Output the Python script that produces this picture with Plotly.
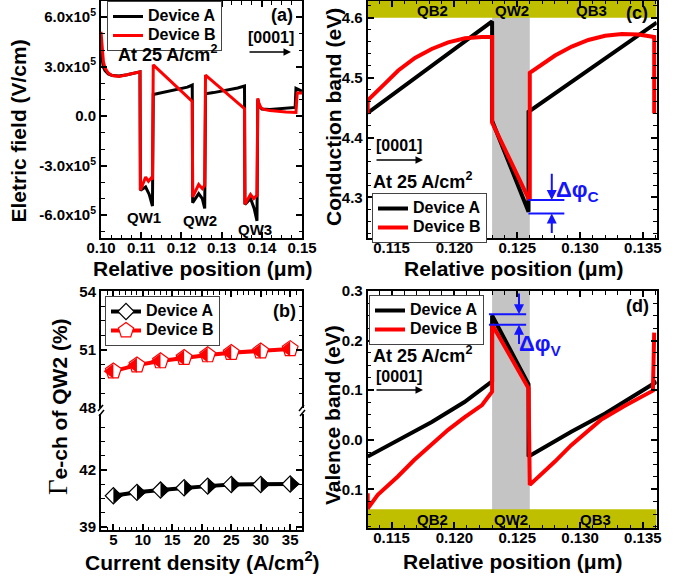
import plotly.graph_objects as go

FONT = "Liberation Sans"
W, H = 690, 577

# ---------------- data ----------------
# (a) electric field vs relative position (um, V/cm)
a_pos_A = [0.1000, 0.1003, 0.1006, 0.1010, 0.1018, 0.1028, 0.1045, 0.1065, 0.1085, 0.1097,
           0.1098, 0.1111, 0.1120, 0.1128,
           0.1130, 0.1140, 0.1160, 0.1180, 0.1200, 0.1215, 0.1227,
           0.1228, 0.1243, 0.1252, 0.1258,
           0.1260, 0.1280, 0.1300, 0.1320, 0.1340, 0.1357,
           0.1358, 0.1372, 0.1381, 0.1388,
           0.1390, 0.1394, 0.1400, 0.1420, 0.1460, 0.1483, 0.1485, 0.1492, 0.1500]
a_field_A = [3.9e5, 3.3e5, 2.95e5, 2.75e5, 2.55e5, 2.45e5, 2.42e5, 2.5e5, 2.6e5, 2.68e5,
             -4.5e5, -4.3e5, -4.75e5, -5.45e5,
             1.3e5, 1.35e5, 1.45e5, 1.55e5, 1.65e5, 1.75e5, 1.88e5,
             -5.25e5, -4.7e5, -5.0e5, -5.6e5,
             1.35e5, 1.42e5, 1.5e5, 1.6e5, 1.7e5, 1.82e5,
             -5.35e5, -5.0e5, -5.6e5, -6.35e5,
             1.0e5, 0.6e5, 0.42e5, 0.4e5, 0.45e5, 0.52e5, 1.68e5, 1.58e5, 1.5e5]
a_pos_B = [0.1000, 0.1003, 0.1006, 0.1010, 0.1018, 0.1028, 0.1045, 0.1065, 0.1085, 0.1097,
           0.1098, 0.1111, 0.1118, 0.1125, 0.1128,
           0.1130, 0.1227,
           0.1228, 0.1243, 0.1252, 0.1258,
           0.1260, 0.1357,
           0.1358, 0.1372, 0.1380, 0.1388,
           0.1390, 0.1393, 0.1398, 0.1405, 0.1420, 0.1460, 0.1485, 0.1488, 0.1500]
a_field_B = [5.1e5, 4.0e5, 3.3e5, 2.9e5, 2.6e5, 2.45e5, 2.4e5, 2.5e5, 2.6e5, 2.68e5,
             -4.5e5, -3.7e5, -3.95e5, -3.75e5, -3.85e5,
             3.1e5, 0.88e5,
             -4.9e5, -4.15e5, -4.4e5, -4.2e5,
             2.48e5, 0.45e5,
             -5.35e5, -4.75e5, -5.0e5, -4.8e5,
             1.07e5, 0.75e5, 0.5e5, 0.4e5, 0.33e5, 0.25e5, 0.22e5, 1.4e5, 1.4e5]
a_ytick_vals = [-6e5, -3e5, 0, 3e5, 6e5]
a_ytick_text = ["-6.0x10<sup>5</sup>", "-3.0x10<sup>5</sup>", "0.0",
                "3.0x10<sup>5</sup>", "6.0x10<sup>5</sup>"]
a_qw_labels = ["QW1", "QW2", "QW3"]

# (b) electron-channel ratio of QW2 vs current density
b_current = [5, 9, 13, 17, 21, 25, 30, 35]
b_gamma_A = [40.64, 40.82, 40.94, 41.06, 41.15, 41.24, 41.24, 41.26]
b_gamma_B = [49.90, 50.21, 50.42, 50.59, 50.73, 50.85, 50.93, 51.05]

# (c) conduction band
c_pos_A = [0.1131, 0.1230, 0.1230, 0.1259, 0.1259, 0.1361]
c_band_A = [4.441, 4.594, 4.428, 4.276, 4.443, 4.592]
c_pos_B = [0.1131, 0.1131, 0.11447, 0.11553, 0.11686, 0.11819, 0.11951, 0.12084, 0.12217, 0.1230,
           0.1230, 0.1259, 0.1260, 0.1260, 0.12801, 0.12934, 0.13066, 0.1320, 0.13333, 0.13465,
           0.1359, 0.1359]
c_band_B = [4.440, 4.462, 4.490, 4.512, 4.533, 4.548, 4.559, 4.566, 4.568, 4.568,
            4.425, 4.298, 4.298, 4.508, 4.537, 4.552, 4.563, 4.570, 4.573, 4.572,
            4.568, 4.440]

# (d) valence band
d_pos_A = [0.1131, 0.1155, 0.1182, 0.1208, 0.1230, 0.1230, 0.1259, 0.1259, 0.1293, 0.1320, 0.1358, 0.1361]
d_band_A = [-0.034, -0.001, 0.036, 0.076, 0.118, 0.2506, 0.112, -0.034, 0.016, 0.053, 0.1126, 0.117]
d_pos_B = [0.1131, 0.1131, 0.1139, 0.1155, 0.1168, 0.1182, 0.1195, 0.1208, 0.1222, 0.1230,
           0.1230, 0.1259, 0.1260, 0.1280, 0.1293, 0.1317, 0.1336, 0.1358, 0.1359]
d_band_B = [-0.108, -0.139, -0.111, -0.074, -0.041, -0.008, 0.020, 0.045, 0.070, 0.097,
            0.2326, 0.104, -0.091, -0.044, -0.011, 0.041, 0.069, 0.099, 0.216]

# layer structure (um)
qw2_bounds = [0.123, 0.126]
layer_labels = ["QB2", "QW2", "QB3"]
# band offset markers
c_dphi_levels = [4.2955, 4.273]
c_dphi_x = [0.12589, 0.12875]
d_dphi_levels = [0.2533, 0.232]
d_dphi_x = [0.12275, 0.12571]

# axis ranges
A_XR = [0.10, 0.15]
A_YR = [-7.39e5, 6.97e5]
B_XR = [2.9, 37.0]
B_YR_LOW = [38.83, 44.99]
B_YR_UP = [47.98, 54.04]
C_XR = [0.1131, 0.1361]
C_YR = [4.232, 4.629]
D_YR = [-0.178, 0.300]

BLACK = "black"
RED = "#ff0000"
BLUE = "#1414ff"
OLIVE = "#bfbf00"
GRAY = "#c4c4c4"


def px(x):
    return x / W


def py(y):
    return 1 - y / H


def lname(s):
    return '<span style="font-size:16px"><b>%s</b></span>' % s


fig = go.Figure()

# ---- panel a
fig.add_trace(go.Scatter(x=a_pos_A, y=a_field_A, mode="lines", name=lname("Device A"),
                         line=dict(color=BLACK, width=3), xaxis="x", yaxis="y", legend="legend"))
fig.add_trace(go.Scatter(x=a_pos_B, y=a_field_B, mode="lines", name=lname("Device B"),
                         line=dict(color=RED, width=3), xaxis="x", yaxis="y", legend="legend"))

# ---- panel b
fig.add_trace(go.Scatter(x=b_current, y=b_gamma_A, mode="lines+markers", name=lname("Device A"),
                         line=dict(color=BLACK, width=4),
                         marker=dict(symbol="diamond", size=12.5, color="white",
                                     line=dict(color=BLACK, width=1.2)),
                         xaxis="x2", yaxis="y2", legend="legend2"))
fig.add_trace(go.Scatter(x=b_current, y=b_gamma_A, mode="markers", showlegend=False,
                         marker=dict(symbol="triangle-down", size=13, angle=-90, standoff=3.25,
                                     color=BLACK, line=dict(width=0)),
                         xaxis="x2", yaxis="y2", hoverinfo="skip"))
fig.add_trace(go.Scatter(x=b_current, y=b_gamma_B, mode="lines+markers", name=lname("Device B"),
                         line=dict(color=RED, width=4),
                         marker=dict(symbol="pentagon", size=16.5, color="white",
                                     line=dict(color=RED, width=1.2)),
                         xaxis="x5", yaxis="y3", legend="legend2"))
fig.add_trace(go.Scatter(x=b_current, y=b_gamma_B, mode="markers", showlegend=False,
                         marker=dict(symbol="triangle-down", size=13, angle=90, standoff=3.25,
                                     color=RED, line=dict(width=0)),
                         xaxis="x5", yaxis="y3", hoverinfo="skip"))

# ---- panel c
fig.add_trace(go.Scatter(x=c_pos_A, y=c_band_A, mode="lines", name=lname("Device A"),
                         line=dict(color=BLACK, width=4), xaxis="x3", yaxis="y4", legend="legend3"))
fig.add_trace(go.Scatter(x=c_pos_B, y=c_band_B, mode="lines", name=lname("Device B"),
                         line=dict(color=RED, width=4), xaxis="x3", yaxis="y4", legend="legend3"))

# ---- panel d
fig.add_trace(go.Scatter(x=d_pos_A, y=d_band_A, mode="lines", name=lname("Device A"),
                         line=dict(color=BLACK, width=4), xaxis="x4", yaxis="y5", legend="legend4"))
fig.add_trace(go.Scatter(x=d_pos_B, y=d_band_B, mode="lines", name=lname("Device B"),
                         line=dict(color=RED, width=4), xaxis="x4", yaxis="y5", legend="legend4"))

TICKFONT = dict(family=FONT, size=15, color="black", weight="bold")


def axis(domain, rng, anchor, mirror="allticks", minor_dtick=None, minor_tick0=None, **kw):
    d = dict(domain=domain, range=rng, anchor=anchor, showline=True, linewidth=2,
             linecolor="black", mirror=mirror, ticks="inside", ticklen=6, tickwidth=1.5,
             tickcolor="black", showgrid=False, zeroline=False, tickfont=TICKFONT)
    if minor_dtick is not None:
        m = dict(ticks="inside", ticklen=3.5, tickwidth=1.2, tickcolor="black",
                 showgrid=False, dtick=minor_dtick)
        if minor_tick0 is not None:
            m["tick0"] = minor_tick0
        d["minor"] = m
    d.update(kw)
    return d


AX = [px(101), px(302)]
CX = [px(367.7), px(656.7)]
XSTAND = -5

layout_axes = dict(
    xaxis=axis(AX, A_XR, "y", minor_dtick=0.0025, minor_tick0=0.1, ticklabelstandoff=XSTAND,
               tickmode="linear", tick0=0.10, dtick=0.01, tickformat=".2f"),
    yaxis=axis([py(238), py(1)], A_YR, "x", minor_dtick=1e5, minor_tick0=0,
               tickmode="array", tickvals=a_ytick_vals, ticktext=a_ytick_text),
    xaxis2=axis(AX, B_XR, "y2", mirror=False, minor_dtick=1, minor_tick0=0,
                ticklabelstandoff=XSTAND, tickmode="linear", tick0=5, dtick=5),
    xaxis5=axis(AX, B_XR, "y3", mirror=False, side="top", matches="x2",
                showticklabels=False, minor_dtick=1, minor_tick0=0,
                tickmode="linear", tick0=5, dtick=5),
    yaxis2=axis([py(530), py(413.5)], B_YR_LOW, "x2", minor_dtick=0.75, minor_tick0=39,
                tickmode="linear", tick0=39, dtick=3),
    yaxis3=axis([py(408.3), py(291)], B_YR_UP, "x5", minor_dtick=0.75, minor_tick0=48,
                tickmode="linear", tick0=48, dtick=3),
    xaxis3=axis(CX, C_XR, "y4", minor_dtick=0.001, minor_tick0=0.115, ticklabelstandoff=XSTAND,
                tickmode="linear", tick0=0.115, dtick=0.005, tickformat=".3f"),
    yaxis4=axis([py(238), py(0.5)], C_YR, "x3", minor_dtick=0.02, minor_tick0=4.3,
                tickmode="linear", tick0=4.3, dtick=0.1, tickformat=".1f"),
    xaxis4=axis(CX, C_XR, "y5", minor_dtick=0.001, minor_tick0=0.115, ticklabelstandoff=XSTAND,
                tickmode="linear", tick0=0.115, dtick=0.005, tickformat=".3f"),
    yaxis5=axis([py(528), py(291)], D_YR, "x4", minor_dtick=0.025, minor_tick0=0,
                tickmode="linear", tick0=0, dtick=0.1, tickformat=".1f"),
)

LEGFONT = dict(family=FONT, size=12, color="black")


def legend(xp, yp):
    return dict(x=px(xp), y=py(yp), xanchor="left", yanchor="top", bgcolor="white",
                bordercolor="#444", borderwidth=1, font=LEGFONT, tracegroupgap=0,
                itemsizing="trace")


shapes = []
# panel c bands
shapes.append(dict(type="rect", xref="x3", yref="y4", x0=C_XR[0], x1=C_XR[1], y0=4.6, y1=C_YR[1],
                   fillcolor=OLIVE, line=dict(width=0), layer="below"))
shapes.append(dict(type="rect", xref="x3", yref="y4 domain", x0=qw2_bounds[0], x1=qw2_bounds[1],
                   y0=0, y1=1, fillcolor=GRAY, line=dict(width=0), layer="below"))
# panel d bands
shapes.append(dict(type="rect", xref="x4", yref="y5", x0=C_XR[0], x1=C_XR[1], y0=D_YR[0], y1=-0.14,
                   fillcolor=OLIVE, line=dict(width=0), layer="below"))
shapes.append(dict(type="rect", xref="x4", yref="y5 domain", x0=qw2_bounds[0], x1=qw2_bounds[1],
                   y0=0, y1=1, fillcolor=GRAY, line=dict(width=0), layer="below"))
# delta phi lines
for lv in c_dphi_levels:
    shapes.append(dict(type="line", xref="x3", yref="y4", x0=c_dphi_x[0], x1=c_dphi_x[1],
                       y0=lv, y1=lv, line=dict(color=BLUE, width=2)))
for lv in d_dphi_levels:
    shapes.append(dict(type="line", xref="x4", yref="y5", x0=d_dphi_x[0], x1=d_dphi_x[1],
                       y0=lv, y1=lv, line=dict(color=BLUE, width=2)))
# axis break marks in panel b
for xb in (101, 302):
    shapes.append(dict(type="rect", xref="paper", yref="paper", x0=px(xb - 3), x1=px(xb + 3),
                       y0=py(413.5), y1=py(408.3), fillcolor="white", line=dict(width=0)))
    shapes.append(dict(type="line", xref="paper", yref="paper", x0=px(xb - 3), x1=px(xb + 2),
                       y0=py(411), y1=py(405), line=dict(color="black", width=1.5)))
    shapes.append(dict(type="line", xref="paper", yref="paper", x0=px(xb - 2), x1=px(xb + 3),
                       y0=py(416), y1=py(410), line=dict(color="black", width=1.5)))

ann = []


def text(xp, yp, s, size=15, color="black", angle=0, bold=True):
    ann.append(dict(x=px(xp), y=py(yp), xref="paper", yref="paper", text=s, showarrow=False,
                    textangle=angle, xanchor="center", yanchor="middle",
                    font=dict(family=FONT, size=size, color=color,
                              weight="bold" if bold else "normal")))


def paper_arrow(x_head, y_head, x_tail, y_tail, color="black", width=1.5):
    ann.append(dict(x=px(x_head), y=py(y_head), ax=x_tail - x_head, ay=y_tail - y_head,
                    xref="paper", yref="paper", axref="pixel", ayref="pixel", text="",
                    showarrow=True, arrowhead=2, arrowsize=1, arrowwidth=width, arrowcolor=color))


def data_arrow(x_head, y_head, x_tail, y_tail, xref, yref, color="black", width=1.5):
    ann.append(dict(x=x_head, y=y_head, ax=x_tail, ay=y_tail, xref=xref, yref=yref,
                    axref=xref, ayref=yref, text="", showarrow=True, arrowhead=2,
                    arrowsize=1, arrowwidth=width, arrowcolor=color))


# axis titles
text(18.5, 131, "Eletric field (V/cm)", size=21, angle=-90)
text(202, 268, "Relative position (\u03bcm)", size=21)
text(58, 407, '<span style="font-family:Liberation Serif;font-weight:normal;font-size:27px">\u0393</span>e-ch of QW2 (%)',
     size=21, angle=-90)
text(202, 561, "Current density (A/cm<sup>2</sup>)", size=21)
text(333, 117, "Conduction band (eV)", size=21, angle=-90)
text(513, 268, "Relative position (\u03bcm)", size=21)
text(332, 415, "Valence band (eV)", size=21, angle=-90)
text(512, 561, "Relative position (\u03bcm)", size=21)

# panel a labels
text(282, 15, "(a)", size=18)
text(271, 37, "[0001]", size=16)
paper_arrow(291, 52, 248, 52)
text(167, 54, "At 25 A/cm<sup>2</sup>", size=18)
for lbl, (xq, yq) in zip(a_qw_labels, [(144, 218), (200, 220), (255, 229)]):
    text(xq, yq, lbl, size=15)

# panel b labels
text(284, 311, "(b)", size=18)

# panel c labels
for lbl, xq in zip(layer_labels, [432, 511.5, 591]):
    text(xq, 11, lbl, size=15)
text(637, 13, "(c)", size=18)
text(399, 146, "[0001]", size=16)
paper_arrow(423, 160, 375, 160)
text(422, 180, "At 25 A/cm<sup>2</sup>", size=18)
text(577, 191, "\u0394\u03c6<sub>C</sub>", size=22, color=BLUE)
data_arrow(0.12775, c_dphi_levels[0], 0.12775, 4.342, "x3", "y4", color=BLUE, width=2)
data_arrow(0.12775, c_dphi_levels[1], 0.12775, 4.238, "x3", "y4", color=BLUE, width=2)

# panel d labels
text(637, 306, "(d)", size=18)
text(422, 354, "At 25 A/cm<sup>2</sup>", size=18)
text(399, 376, "[0001]", size=16)
paper_arrow(423, 390, 375, 390)
for lbl, xq in zip(layer_labels, [432, 511, 595]):
    text(xq, 519, lbl, size=15)
text(540, 345, "\u0394\u03c6<sub>V</sub>", size=22, color=BLUE)
data_arrow(0.12514, d_dphi_levels[0], 0.12514, 0.298, "x4", "y5", color=BLUE, width=2)
data_arrow(0.12514, d_dphi_levels[1], 0.12514, 0.19, "x4", "y5", color=BLUE, width=2)

fig.update_layout(
    width=W, height=H, autosize=False,
    margin=dict(l=0, r=0, t=0, b=0, pad=0, autoexpand=False),
    paper_bgcolor="white", plot_bgcolor="white",
    font=dict(family=FONT, color="black"),
    legend=legend(107, 1), legend2=legend(105, 296),
    legend3=legend(372, 193), legend4=legend(369, 295),
    shapes=shapes, annotations=ann,
    **layout_axes,
)

fig.write_html("out.html", config={"displayModeBar": False},
               post_script="document.body.style.margin='0';document.body.style.overflow='hidden';")
